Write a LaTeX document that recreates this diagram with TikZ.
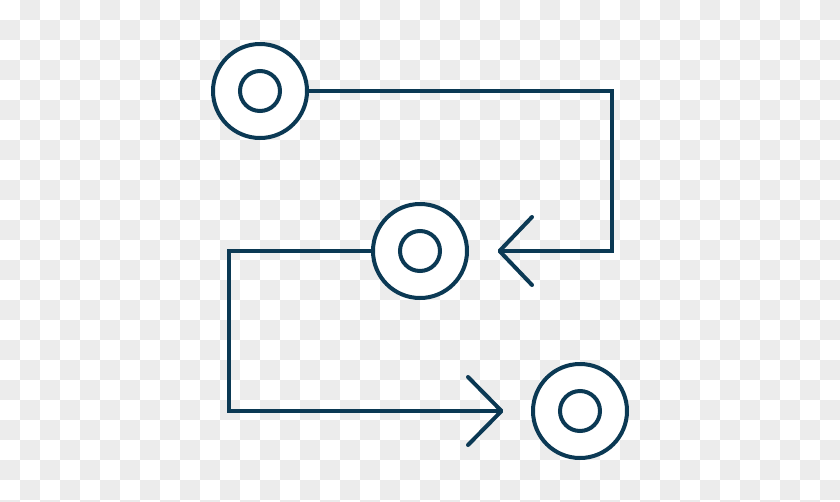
\documentclass[tikz,border=0pt]{standalone}
\definecolor{navy}{RGB}{11,57,84}
\definecolor{checker}{RGB}{236,236,236}
\begin{document}
\begin{tikzpicture}[x=1pt,y=-1pt,
  ring/.style={circle,draw=navy,fill=white,line width=4pt,inner sep=0pt,minimum size=94pt},
  hole/.style={circle,draw=navy,line width=4pt,inner sep=0pt,minimum size=40pt},
  wire/.style={draw=navy,line width=4pt,miter limit=10},
  chev/.style={draw=navy,line width=4pt,line cap=round,line join=round}]
\useasboundingbox (0,0) rectangle (840,501);
\begin{scope}
\clip (0,0) rectangle (840,501);
\fill[white] (0,0) rectangle (840,501);
\foreach \j in {0,...,25}{
  \pgfmathtruncatemacro\s{mod(\j+1,2)}
  \pgfmathtruncatemacro\t{\s+2}
  \foreach \i in {\s,\t,...,41}{
    \fill[checker] (\i*20,\j*20) rectangle ++(20,20);
  }
}
\end{scope}
% nodes
\node[ring] (a) at (260,91) {};
\node[hole] (ai) at (260,91) {};
\node[ring] (b) at (420,251) {};
\node[hole] (bi) at (420,251) {};
\node[ring] (c) at (580,411) {};
\node[hole] (ci) at (580,411) {};
% arrow 1
\coordinate (t1) at (499.5,251);
\coordinate (t1u) at (532,217);
\coordinate (t1d) at (532,285);
\draw[wire] (a.east) -- (612,91) -- (612,251) -- (t1);
\draw[chev] (t1u) -- (t1) -- (t1d);
% arrow 2
\coordinate (t2) at (501.5,411);
\coordinate (t2u) at (468,377);
\coordinate (t2d) at (468,445);
\draw[wire] (b.west) -- (229,251) -- (229,411) -- (t2);
\draw[chev] (t2u) -- (t2) -- (t2d);
\end{tikzpicture}
\end{document}
